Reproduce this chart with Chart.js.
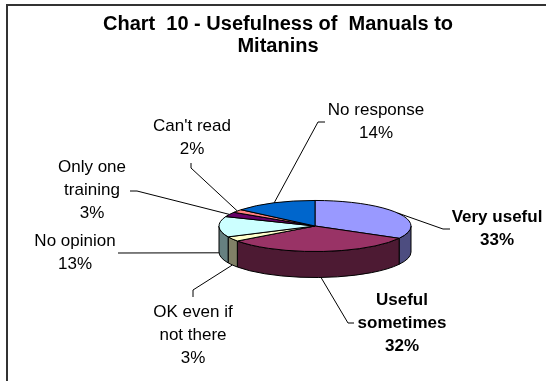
<!DOCTYPE html>
<html>
<head>
<meta charset="utf-8">
<script src="https://cdn.jsdelivr.net/npm/chart.js@4.4.1/dist/chart.umd.min.js"></script>
<style>
html, body { margin: 0; padding: 0; background: #fff; }
#wrap { position: relative; width: 546px; height: 381px; }
</style>
</head>
<body>
<div id="wrap"><canvas id="chart" width="546" height="381"></canvas></div>
<script>
// chart data
const categories = [['Very useful'], ['Useful', 'sometimes'], ['OK even if', 'not there'], ['No opinion'], ['Only one', 'training'], ["Can't read"], ['No response']];
const values = [33, 32, 3, 13, 3, 2, 14];
const titleLines = ['Chart  10 - Usefulness of  Manuals to', 'Mitanins'];

const topColors = ['#9999FF', '#993366', '#FFFFCC', '#CCFFFF', '#660066', '#FF8080', '#0066CC'];
const sideColors = ['#4D4D80', '#4D1A33', '#808066', '#668080', '#330033', '#804040', '#003366'];
const boldLabel = [true, true, false, false, false, false, false];

const FONT = "'Liberation Sans', Arial, sans-serif";
const tilt = 0.266;   // ellipse height / width
const depth = 26;     // height of the pie wall
const lineH = 23;

// where each data label sits: text centre x, first line y, leader elbow and end
const labelSpots = [
	{ x: 497, y: 217, elbow: [443, 229], end: [450, 229] },
	{ x: 402, y: 300, elbow: [348, 323], end: [354, 323] },
	{ x: 193, y: 312, elbow: [193, 290], end: [193, 297] },
	{ x: 75, y: 241, elbow: [118, 253], end: [118, 253] },
	{ x: 92, y: 167, elbow: [137, 191], end: [130, 191] },
	{ x: 192, y: 126, elbow: [191, 168], end: [191, 163] },
	{ x: 376, y: 110, elbow: [318, 122], end: [325, 122] },
];

const pie3d = {
	id: 'pie3d',
	beforeDatasetsDraw(chart) {
		const ctx = chart.ctx;
		const arcs = chart.getDatasetMeta(0).data;
		const cx = arcs[0].x;
		const cy = arcs[0].y;
		const rx = arcs[0].outerRadius;
		const ry = rx * tilt;
		ctx.save();
		ctx.lineWidth = 1;
		ctx.strokeStyle = '#000';
		ctx.lineJoin = 'round';
		// walls, only the front half shows
		arcs.forEach((arc, i) => {
			const s = Math.max(arc.startAngle, 0);
			const e = Math.min(arc.endAngle, Math.PI);
			if (e <= s) return;
			ctx.beginPath();
			ctx.ellipse(cx, cy, rx, ry, 0, s, e);
			ctx.ellipse(cx, cy + depth, rx, ry, 0, e, s, true);
			ctx.closePath();
			ctx.fillStyle = sideColors[i];
			ctx.fill();
			ctx.stroke();
		});
		// top faces
		arcs.forEach((arc, i) => {
			ctx.beginPath();
			ctx.moveTo(cx, cy);
			ctx.ellipse(cx, cy, rx, ry, 0, arc.startAngle, arc.endAngle);
			ctx.closePath();
			ctx.fillStyle = topColors[i];
			ctx.fill();
			ctx.stroke();
		});
		ctx.restore();
		return false;
	},
	afterDraw(chart) {
		const ctx = chart.ctx;
		const arcs = chart.getDatasetMeta(0).data;
		const cx = arcs[0].x;
		const cy = arcs[0].y;
		const rx = arcs[0].outerRadius;
		const ry = rx * tilt;
		const total = values.reduce((a, b) => a + b, 0);
		ctx.save();

		// frame
		ctx.strokeStyle = '#333';
		ctx.lineWidth = 2;
		ctx.beginPath();
		ctx.moveTo(7, chart.height);
		ctx.lineTo(7, 5);
		ctx.lineTo(chart.width, 5);
		ctx.stroke();

		// title
		ctx.fillStyle = '#000';
		ctx.textAlign = 'center';
		ctx.textBaseline = 'middle';
		ctx.font = 'bold 20px ' + FONT;
		titleLines.forEach((t, k) => ctx.fillText(t, 278, 24 + k * 22));

		// leader lines and labels
		arcs.forEach((arc, i) => {
			const spot = labelSpots[i];
			const mid = (arc.startAngle + arc.endAngle) / 2;
			let sx = cx + rx * Math.cos(mid);
			let sy = cy + ry * Math.sin(mid);
			if (Math.sin(mid) > 0) sy += depth;
			ctx.strokeStyle = '#000';
			ctx.lineWidth = 1;
			ctx.beginPath();
			ctx.moveTo(sx, sy);
			ctx.lineTo(spot.elbow[0], spot.elbow[1]);
			ctx.lineTo(spot.end[0], spot.end[1]);
			ctx.stroke();

			const lines = categories[i].concat([Math.round(values[i] / total * 100) + '%']);
			ctx.font = (boldLabel[i] ? 'bold ' : '') + '17px ' + FONT;
			lines.forEach((t, k) => ctx.fillText(t, spot.x, spot.y + k * lineH));
		});
		ctx.restore();
	},
};

const config = {
	type: 'pie',
	data: {
		labels: categories,
		datasets: [{
			data: values,
			backgroundColor: topColors,
			borderWidth: 0,
		}],
	},
	options: {
		responsive: false,
		animation: false,
		devicePixelRatio: 1,
		events: [],
		radius: 96,
		layout: {
			padding: { left: 84, top: 71, right: 0, bottom: 0 },
		},
		plugins: {
			legend: { display: false },
			tooltip: { enabled: false },
			title: { display: false },
		},
	},
	plugins: [pie3d],
};

const myChart = new Chart(document.getElementById('chart'), config);
</script>
</body>
</html>
